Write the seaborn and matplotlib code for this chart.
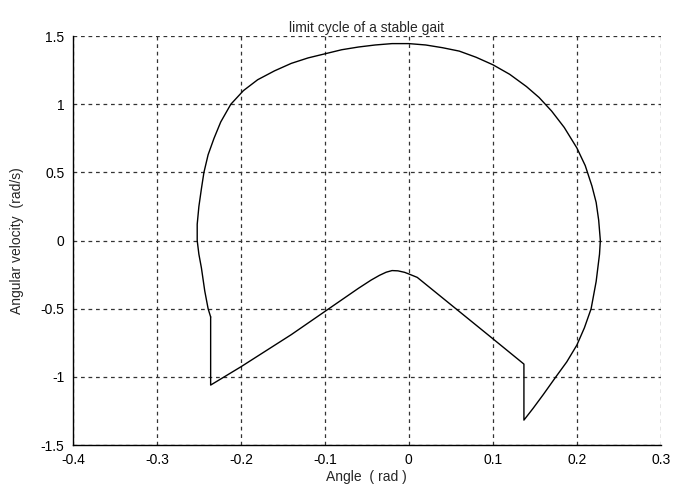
import numpy as np
import pandas as pd
import matplotlib
matplotlib.use('Agg')
import matplotlib.pyplot as plt
import seaborn as sns

# limit cycle path (angle in rad, angular velocity in rad/s)
# big swing arc, left foot-strike end -> over the top -> right end
arc_angle = [-0.236, -0.239, -0.243, -0.247, -0.250, -0.252, -0.252, -0.250, -0.247, -0.244,
             -0.239, -0.232, -0.224, -0.212, -0.197, -0.180, -0.160, -0.140, -0.120, -0.100,
             -0.080, -0.060, -0.040, -0.020, 0.000, 0.020, 0.040, 0.060, 0.080, 0.100,
             0.120, 0.140, 0.155, 0.170, 0.185, 0.200, 0.210, 0.218, 0.223, 0.226,
             0.228, 0.227, 0.223, 0.217, 0.209, 0.200, 0.188, 0.175, 0.160, 0.148, 0.137]
arc_velocity = [-0.56, -0.50, -0.37, -0.20, -0.10, 0.00, 0.12, 0.25, 0.38, 0.50,
                0.63, 0.75, 0.87, 1.00, 1.10, 1.18, 1.245, 1.30, 1.34, 1.37,
                1.40, 1.42, 1.435, 1.445, 1.445, 1.435, 1.415, 1.39, 1.345, 1.29,
                1.22, 1.13, 1.05, 0.95, 0.83, 0.68, 0.55, 0.40, 0.28, 0.15,
                0.00, -0.10, -0.30, -0.50, -0.64, -0.767, -0.89, -1.00, -1.13, -1.23, -1.317]
# impact jump and the inner (stance) segment back to the start
inner_angle = [0.137, 0.096, 0.050, 0.010, 0.000, -0.005, -0.013, -0.020, -0.027, -0.035,
               -0.045, -0.060, -0.100, -0.140, -0.200, -0.236, -0.236]
inner_velocity = [-0.906, -0.70, -0.47, -0.27, -0.245, -0.233, -0.222, -0.220, -0.232, -0.255,
                  -0.29, -0.35, -0.52, -0.69, -0.926, -1.06, -0.56]

xticks = [-0.4, -0.3, -0.2, -0.1, 0, 0.1, 0.2, 0.3]
xtick_labels = ['-0.4', '-0.3', '-0.2', '-0.1', '0', '0.1', '0.2', '0.3']
yticks = [-1.5, -1, -0.5, 0, 0.5, 1, 1.5]
ytick_labels = ['-1.5', '-1', '-0.5', '0', '0.5', '1', '1.5']

angle = arc_angle + inner_angle
velocity = arc_velocity + inner_velocity
df = pd.DataFrame({'angle': angle, 'velocity': velocity})

sns.set_style('white')
plt.rcParams['font.family'] = ['Liberation Sans', 'DejaVu Sans']
plt.rcParams['axes.unicode_minus'] = False

fig = plt.figure(figsize=(6.75, 4.88), dpi=100)
ax = fig.add_axes([0.108, 0.088, 0.871, 0.838])

sns.lineplot(data=df, x='angle', y='velocity', sort=False, estimator=None,
             color='black', linewidth=1.0, ax=ax)

ax.set_xlim(-0.4, 0.3)
ax.set_ylim(-1.5, 1.5)
ax.set_xticks(xticks)
ax.set_xticklabels(xtick_labels)
ax.set_yticks(yticks)
ax.set_yticklabels(ytick_labels)
ax.tick_params(axis='x', direction='in', length=0, labelsize=10, pad=6, colors='black')
ax.tick_params(axis='y', direction='in', length=0, labelsize=10, pad=6, colors='black')

ax.grid(True, color='#333333', linestyle=(0, (3, 3)), linewidth=0.9)
for s in ['top', 'right']:
    ax.spines[s].set_visible(False)
for s in ['left', 'bottom']:
    ax.spines[s].set_color('black')
    ax.spines[s].set_linewidth(1.0)

ax.set_title('limit cycle of a stable gait', fontsize=10, pad=3)
ax.set_xlabel('Angle  ( rad )', fontsize=10, labelpad=2)
ax.set_ylabel('Angular velocity  (rad/s)', fontsize=10, labelpad=12)

fig.savefig('out.png', dpi=100)
